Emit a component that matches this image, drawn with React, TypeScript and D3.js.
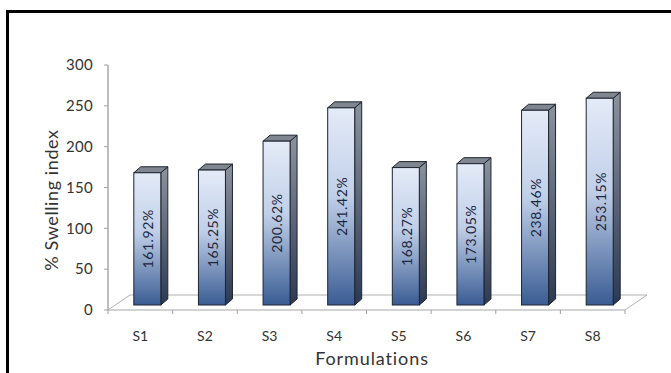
import React from "react";
import * as d3 from "d3";

// Swelling index per formulation
const categories = ["S1", "S2", "S3", "S4", "S5", "S6", "S7", "S8"];
const swelling = [161.92, 165.25, 200.62, 241.42, 168.27, 173.05, 238.46, 253.15];
const yTicks = [0, 50, 100, 150, 200, 250, 300];

const W = 671;
const H = 373;
const FONT = "Lato, 'Open Sans', sans-serif";

export default function App() {
  const left = 108;
  const right = 625;
  const floorY = 310;
  const topY = 65;

  const x = d3.scaleBand<string>().domain(categories).range([left, right]);
  const y = d3.scaleLinear().domain([0, 300]).range([floorY, topY]);

  // depth of the floor and placement of the bars inside it
  const floorDx = 22;
  const floorDy = -15;
  const barOffX = 7;
  const barOffY = -5;
  const barDx = 7;
  const barDy = -6;
  const barW = 27;

  const floorPath = `M${left},${floorY} L${left + floorDx},${floorY + floorDy} L${right + floorDx},${floorY + floorDy} L${right},${floorY}`;

  return (
    <svg width={W} height={H} style={{ position: "absolute", left: 0, top: 0, background: "#fff" }}>
      <defs>
        <linearGradient id="front" x1="0" y1="0" x2="0" y2="1">
          <stop offset="0" stopColor="#e4ebf8" />
          <stop offset="0.45" stopColor="#c0cfe8" />
          <stop offset="1" stopColor="#3a5c93" />
        </linearGradient>
        <linearGradient id="side" x1="0" y1="0" x2="0" y2="1">
          <stop offset="0" stopColor="#8d939e" />
          <stop offset="1" stopColor="#2c3953" />
        </linearGradient>
      </defs>
      <rect x={0} y={0} width={W} height={H} fill="#fff" />
      <rect x={7.5} y={11.5} width={W + 20} height={H + 20} fill="none" stroke="#000" strokeWidth={3} />

      {/* floor */}
      <path d={floorPath} fill="none" stroke="#b0b0b0" strokeWidth={1} />
      <line x1={left} y1={floorY} x2={right} y2={floorY} stroke="#a8a8a8" strokeWidth={1.2} />
      {categories.map((c, i) => (
        <line key={"xt" + i} x1={x(c)!} x2={x(c)!} y1={floorY} y2={floorY + 4} stroke="#a0a0a0" />
      ))}
      <line x1={right} x2={right} y1={floorY} y2={floorY + 4} stroke="#a0a0a0" />

      {/* value axis */}
      <line x1={left} y1={topY} x2={left} y2={floorY} stroke="#a8a8a8" strokeWidth={1.5} />
      {yTicks.map((t) => (
        <g key={"yt" + t}>
          <line x1={left - 4} x2={left} y1={y(t)} y2={y(t)} stroke="#a0a0a0" />
          <text x={93} y={y(t)} dy="0.35em" textAnchor="end" fontSize={15} letterSpacing={0.3} fill="#333" fontFamily={FONT}>
            {t}
          </text>
        </g>
      ))}

      {/* bars */}
      {categories.map((c, i) => {
        const v = swelling[i];
        const cx = x(c)! + x.bandwidth() / 2 + barOffX;
        const x0 = cx - barW / 2;
        const x1 = cx + barW / 2;
        const yb = y(0) + barOffY;
        const yt = yb - (y(0) - y(v));
        const top = `M${x0},${yt} L${x0 + barDx},${yt + barDy} L${x1 + barDx},${yt + barDy} L${x1},${yt} Z`;
        const side = `M${x1},${yt} L${x1 + barDx},${yt + barDy} L${x1 + barDx},${yb + barDy} L${x1},${yb} Z`;
        return (
          <g key={c}>
            <path d={side} fill="url(#side)" stroke="#1e2430" strokeWidth={1} strokeLinejoin="round" />
            <path d={top} fill="#80868f" stroke="#1e2430" strokeWidth={1} strokeLinejoin="round" />
            <rect x={x0} y={yt} width={barW} height={yb - yt} fill="url(#front)" stroke="#1e2430" strokeWidth={1} />
            <text
              transform={`translate(${cx + 1},${(yt + yb) / 2}) rotate(-90)`}
              textAnchor="middle"
              dy="0.35em"
              fontSize={14}
              letterSpacing={0.6}
              fill="#1c2740"
              fontFamily={FONT}
            >
              {v.toFixed(2).replace(/0$/, "") + "%"}
            </text>
          </g>
        );
      })}

      {/* category labels */}
      {categories.map((c) => (
        <text key={"xl" + c} x={x(c)! + x.bandwidth() / 2} y={336} dy="0.35em" textAnchor="middle" fontSize={14} fill="#333" fontFamily={FONT}>
          {c}
        </text>
      ))}

      <text x={372} y={359} dy="0.35em" textAnchor="middle" fontSize={18} letterSpacing={0.9} fill="#333" fontFamily={FONT}>
        Formulations
      </text>
      <text transform="translate(52,200) rotate(-90)" dy="0.35em" textAnchor="middle" fontSize={18} letterSpacing={0.6} fill="#333" fontFamily={FONT}>
        % Swelling index
      </text>
    </svg>
  );
}
